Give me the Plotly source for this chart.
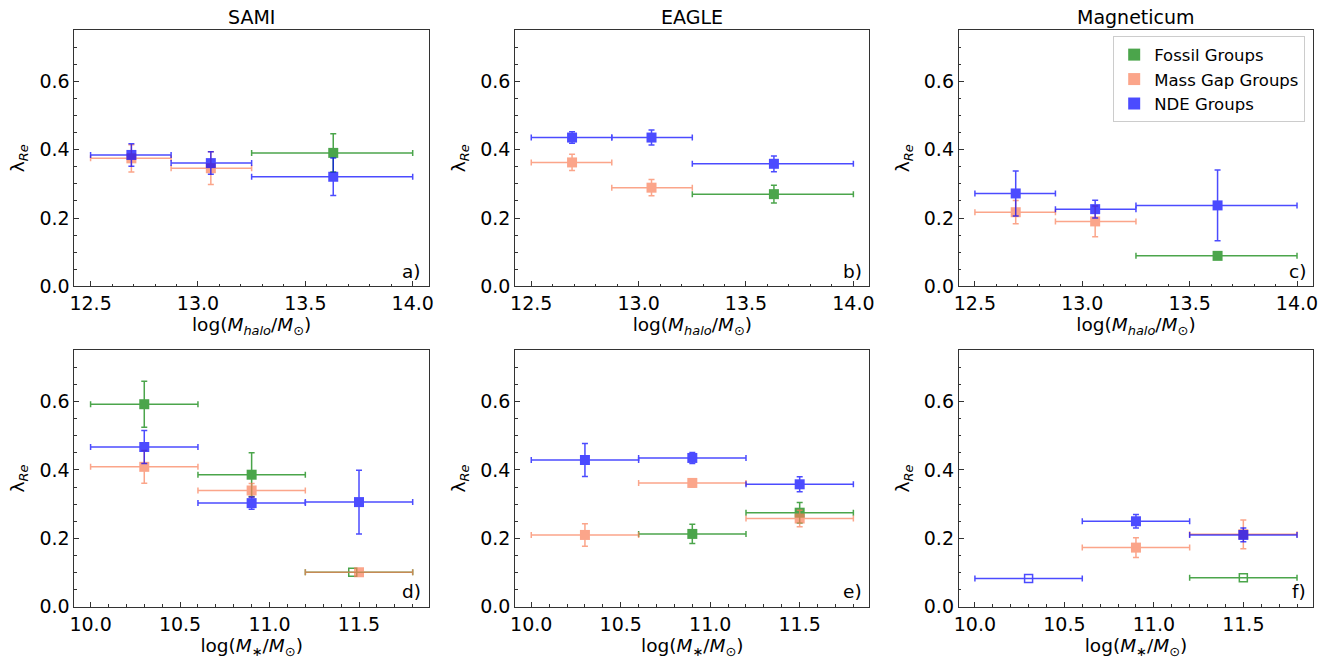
import plotly.graph_objects as go

# ---------------- data ----------------
halo_centers = [12.69, 13.06, 13.63]
halo_edges = [12.5, 12.875, 13.25, 14.0]
mstar_centers = [10.3, 10.9, 11.5]
mstar_edges = [10.0, 10.6, 11.2, 11.8]

group_names = ["Fossil Groups", "Mass Gap Groups", "NDE Groups"]
group_colors = ["rgb(0,128,0)", "rgb(250,128,90)", "rgb(0,0,255)"]

# a) SAMI, halo mass
a_fossil = [None, None, 0.391]
a_fossil_err = [None, None, 0.056]
a_gap = [0.375, 0.346, None]
a_gap_err = [0.040, 0.048, None]
a_nde = [0.385, 0.361, 0.321]
a_nde_err = [0.033, 0.033, 0.055]

# b) EAGLE, halo mass
b_fossil = [None, None, 0.270]
b_fossil_err = [None, None, 0.026]
b_gap = [0.363, 0.289, None]
b_gap_err = [0.024, 0.024, None]
b_nde = [0.436, 0.436, 0.359]
b_nde_err = [0.017, 0.022, 0.023]

# c) Magneticum, halo mass
c_fossil = [None, None, 0.089]
c_fossil_err = [None, None, 0.004]
c_gap = [0.217, 0.190, None]
c_gap_err = [0.034, 0.045, None]
c_nde = [0.272, 0.226, 0.237]
c_nde_err = [0.066, 0.026, 0.104]

# d) SAMI, stellar mass
d_fossil = [0.592, 0.386, 0.101]
d_fossil_err = [0.067, 0.064, None]
d_fossil_x = [10.3, 10.9, 11.465]
d_fossil_open = [False, False, True]
d_gap = [0.409, 0.340, 0.101]
d_gap_err = [0.048, 0.020, 0.004]
d_nde = [0.467, 0.303, 0.306]
d_nde_err = [0.048, 0.018, 0.093]

# e) EAGLE, stellar mass
e_fossil = [None, 0.213, 0.275]
e_fossil_err = [None, 0.028, 0.030]
e_gap = [0.210, 0.362, 0.258]
e_gap_err = [0.033, 0.012, 0.024]
e_nde = [0.429, 0.435, 0.358]
e_nde_err = [0.048, 0.016, 0.022]

# f) Magneticum, stellar mass
f_fossil = [None, None, 0.085]
f_fossil_err = [None, None, None]
f_fossil_open = [False, False, True]
f_gap = [None, 0.173, 0.212]
f_gap_err = [None, 0.029, 0.042]
f_nde = [0.083, 0.250, 0.210]
f_nde_err = [None, 0.020, 0.020]
f_nde_open = [True, False, False]

titles = ["SAMI", "EAGLE", "Magneticum"]
panel_labels = ["a)", "b)", "c)", "d)", "e)", "f)"]

# ---------------- layout geometry ----------------
W, H = 1335, 667
col_px = [(70, 427), (514, 871), (961, 1318)]
row_px = [(31, 291), (356, 617)]
FONT = "DejaVu Sans"
FS_TICK = 19
FS_LAB = 18.5
FS_TITLE = 19

fig = go.Figure()

panels = [
    (0, 0, halo_centers, halo_edges, [a_fossil, a_gap, a_nde], [a_fossil_err, a_gap_err, a_nde_err], None, None),
    (0, 1, halo_centers, halo_edges, [b_fossil, b_gap, b_nde], [b_fossil_err, b_gap_err, b_nde_err], None, None),
    (0, 2, halo_centers, halo_edges, [c_fossil, c_gap, c_nde], [c_fossil_err, c_gap_err, c_nde_err], None, None),
    (1, 0, mstar_centers, mstar_edges, [d_fossil, d_gap, d_nde], [d_fossil_err, d_gap_err, d_nde_err],
     [d_fossil_x, None, None], [d_fossil_open, None, None]),
    (1, 1, mstar_centers, mstar_edges, [e_fossil, e_gap, e_nde], [e_fossil_err, e_gap_err, e_nde_err], None, None),
    (1, 2, mstar_centers, mstar_edges, [f_fossil, f_gap, f_nde], [f_fossil_err, f_gap_err, f_nde_err],
     None, [f_fossil_open, None, f_nde_open]),
]

halo_title = "log(<i>M</i><sub><i>halo</i></sub>/<i>M</i><sub>⊙</sub>)"
mstar_title = "log(<i>M</i><sub>∗</sub>/<i>M</i><sub>⊙</sub>)"

for idx, (r, c, centers, edges, ys, errs, xover, opens) in enumerate(panels):
    n = idx + 1
    xa = "x" if n == 1 else f"x{n}"
    ya = "y" if n == 1 else f"y{n}"
    for g in range(3):
        yv = ys[g]
        ev = errs[g]
        xs = xover[g] if (xover and xover[g]) else centers
        op = opens[g] if (opens and opens[g]) else [False] * 3
        for hollow in (False, True):
            px, py, pe, em, ep = [], [], [], [], []
            for i in range(3):
                if yv[i] is None or op[i] != hollow:
                    continue
                px.append(xs[i])
                py.append(yv[i])
                pe.append(ev[i] if ev[i] is not None else 0)
                em.append(xs[i] - edges[i])
                ep.append(edges[i + 1] - xs[i])
            if not px:
                continue
            show_y = not hollow
            fig.add_trace(go.Scatter(
                x=px, y=py, mode="markers", xaxis=xa, yaxis=ya,
                name=group_names[g],
                legendgroup=group_names[g],
                showlegend=(n == 3 and not hollow),
                opacity=0.7,
                marker=dict(symbol="square-open" if hollow else "square",
                            size=10 if not hollow else 8,
                            color=group_colors[g],
                            line=dict(width=1.5 if hollow else 0, color=group_colors[g])),
                error_x=dict(type="data", symmetric=False, array=ep, arrayminus=em,
                             color=group_colors[g], thickness=1.5, width=3),
                error_y=dict(type="data", array=pe, color=group_colors[g],
                             thickness=1.5, width=3, visible=show_y),
            ))

    x0, x1 = col_px[c]
    y0, y1 = row_px[r]
    dom_x = [x0 / W, x1 / W]
    dom_y = [1 - y1 / H, 1 - y0 / H]
    if r == 0:
        xr = [12.425, 14.075]
        xt = [12.5, 13.0, 13.5, 14.0]
        xtitle = halo_title
    else:
        xr = [9.91, 11.89]
        xt = [10.0, 10.5, 11.0, 11.5]
        xtitle = mstar_title
    axis_common = dict(
        showgrid=False, zeroline=False, showline=True, linecolor="#333", linewidth=1,
        mirror=True, ticks="inside", ticklen=5, tickwidth=1, tickcolor="#333",
        tickfont=dict(family=FONT, size=FS_TICK, color="black"),
    )
    xkey = "xaxis" if n == 1 else f"xaxis{n}"
    ykey = "yaxis" if n == 1 else f"yaxis{n}"
    fig.update_layout(**{
        xkey: dict(domain=dom_x, anchor=ya, range=xr, tickvals=xt,
                   ticktext=[f"{v:.1f}" for v in xt],
                   minor=dict(dtick=0.1, tick0=10.0, ticks="inside", ticklen=2.5, tickcolor="#333"),
                   title=dict(text=xtitle, font=dict(family=FONT, size=FS_LAB, color="black"), standoff=0),
                   **axis_common),
        ykey: dict(domain=dom_y, anchor=xa, range=[0, 0.75], tickvals=[0, 0.2, 0.4, 0.6],
                   ticktext=["0.0", "0.2", "0.4", "0.6"],
                   minor=dict(dtick=0.05, tick0=0, ticks="inside", ticklen=2.5, tickcolor="#333"),
                   title=dict(text="λ<sub><i>Re</i></sub>", font=dict(family=FONT, size=FS_LAB, color="black"), standoff=9),
                   **axis_common),
    })
    fig.add_annotation(text=panel_labels[idx], xref=f"{xa} domain", yref=f"{ya} domain",
                       x=0.985, y=0.01, xanchor="right", yanchor="bottom", showarrow=False,
                       font=dict(family=FONT, size=FS_LAB, color="black"))
    if r == 0:
        fig.add_annotation(text=titles[c], xref=f"{xa} domain", yref=f"{ya} domain",
                           x=0.5, y=1.0, xanchor="center", yanchor="bottom", showarrow=False,
                           font=dict(family=FONT, size=FS_TITLE, color="black"))

fig.update_layout(
    width=W, height=H,
    margin=dict(l=0, r=0, t=0, b=0),
    paper_bgcolor="white", plot_bgcolor="white",
    showlegend=True,
    legend=dict(x=1310 / W, y=1 - 37 / H, xanchor="right", yanchor="top",
                bgcolor="rgba(255,255,255,0.8)", bordercolor="#ccc", borderwidth=1,
                font=dict(family=FONT, size=16.5, color="black"),
                itemsizing="constant", tracegroupgap=0),
)

fig.write_html("out.html", config={"displayModeBar": False},
               post_script="document.body.style.margin='0';")
